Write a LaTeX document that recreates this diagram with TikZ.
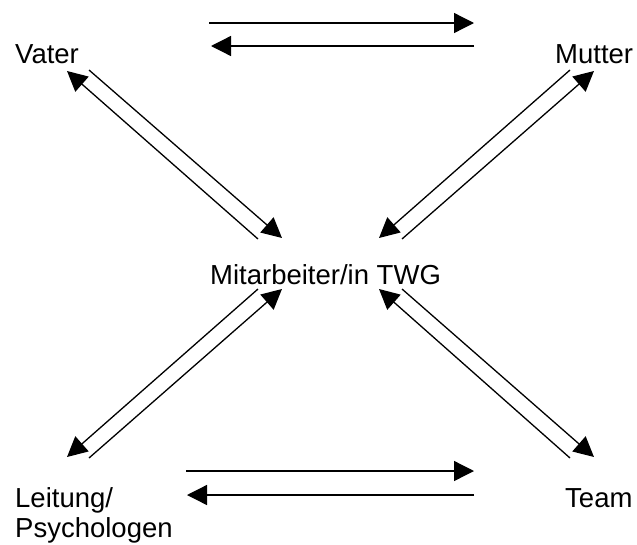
\documentclass[tikz,border=0pt]{standalone}
\usepackage{fontspec}
\setmainfont{Liberation Sans}
\usetikzlibrary{arrows.meta}
\begin{document}
\begin{tikzpicture}[x=1pt,y=-1pt,
  label/.style={inner sep=0pt,anchor=base west,font=\fontsize{27.5}{30}\selectfont,align=left},
  flow/.style={line width=1.3pt,-{Triangle[length=20pt,width=20pt]}}]
\useasboundingbox (0,0) rectangle (637,544);

% people and roles
\node[label] (vater) at (15,63) {Vater};
\node[label] (mutter) at (555,63) {Mutter};
\node[label] (twg) at (210,284) {Mitarbeiter/in TWG};
\node[label] (leitung) at (15,537) {Leitung/\\Psychologen};
\node[label] (team) at (565,507) {Team};

% end points of the paired connectors
\coordinate (vm-a) at (209,23);  \coordinate (vm-b) at (474,23);
\coordinate (mv-a) at (474,46);  \coordinate (mv-b) at (211,46);
\coordinate (vt-a) at (89,70);   \coordinate (vt-b) at (282,238);
\coordinate (tv-a) at (258,239); \coordinate (tv-b) at (67,71);
\coordinate (mt-a) at (570,70);  \coordinate (mt-b) at (379,238);
\coordinate (tm-a) at (402,239); \coordinate (tm-b) at (594,71);
\coordinate (tl-a) at (258,289); \coordinate (tl-b) at (67,457);
\coordinate (lt-a) at (89,458);  \coordinate (lt-b) at (282,289);
\coordinate (ttm-a) at (570,458);\coordinate (ttm-b) at (379,289);
\coordinate (tmt-a) at (402,289);\coordinate (tmt-b) at (594,457);
\coordinate (le-a) at (186,471); \coordinate (le-b) at (474,471);
\coordinate (el-a) at (474,495); \coordinate (el-b) at (187,495);

\draw[flow] (vm-a) -- (vm-b);
\draw[flow] (mv-a) -- (mv-b);
\draw[flow] (vt-a) -- (vt-b);
\draw[flow] (tv-a) -- (tv-b);
\draw[flow] (mt-a) -- (mt-b);
\draw[flow] (tm-a) -- (tm-b);
\draw[flow] (tl-a) -- (tl-b);
\draw[flow] (lt-a) -- (lt-b);
\draw[flow] (ttm-a) -- (ttm-b);
\draw[flow] (tmt-a) -- (tmt-b);
\draw[flow] (le-a) -- (le-b);
\draw[flow] (el-a) -- (el-b);
\end{tikzpicture}
\end{document}
